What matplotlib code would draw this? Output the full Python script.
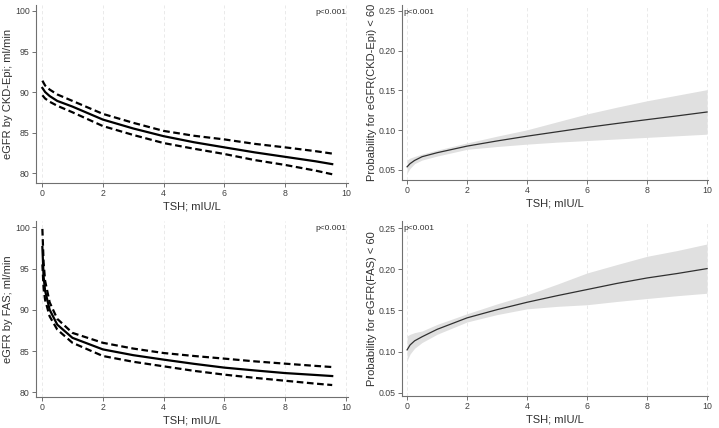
import numpy as np
import matplotlib.pyplot as plt

plt.rcParams['font.family'] = ['Liberation Sans', 'DejaVu Sans']

# eGFR by CKD-Epi (top left)
tsh_ckd = [0.01, 0.1, 0.25, 0.5, 1, 2, 3, 4, 5, 6, 7, 8, 9, 9.55]
ckd_fit = [90.5, 90.0, 89.5, 88.9, 88.2, 86.6, 85.5, 84.55, 83.8, 83.17, 82.55, 82.0, 81.45, 81.1]
ckd_hi = [91.4, 90.8, 90.3, 89.7, 88.9, 87.3, 86.2, 85.2, 84.6, 84.15, 83.6, 83.17, 82.7, 82.4]
ckd_lo = [89.6, 89.2, 88.8, 88.3, 87.5, 85.8, 84.7, 83.7, 83.0, 82.35, 81.6, 81.0, 80.3, 79.85]

# eGFR by FAS (bottom left)
tsh_fas = [0.01, 0.05, 0.1, 0.25, 0.5, 1, 2, 3, 4, 5, 6, 7, 8, 9, 9.55]
fas_fit = [97.6, 94.0, 92.3, 90.0, 88.2, 86.6, 85.2, 84.5, 83.96, 83.45, 82.99, 82.65, 82.33, 82.1, 81.97]
fas_hi = [99.8, 95.7, 93.5, 90.9, 88.9, 87.2, 86.0, 85.3, 84.76, 84.4, 84.08, 83.75, 83.47, 83.2, 83.06]
fas_lo = [95.5, 92.6, 91.2, 89.2, 87.6, 86.0, 84.4, 83.7, 83.15, 82.6, 82.14, 81.75, 81.4, 81.05, 80.88]

# probability eGFR(CKD-Epi) < 60 (top right)
tsh_p = [0, 0.1, 0.25, 0.5, 1, 2, 3, 4, 5, 6, 7, 8, 9, 10]
pckd_fit = [0.054, 0.058, 0.062, 0.0667, 0.0717, 0.080, 0.0865, 0.0925, 0.098, 0.1035, 0.1085, 0.1133, 0.118, 0.1229]
pckd_hi = [0.0625, 0.065, 0.067, 0.070, 0.075, 0.084, 0.0925, 0.1005, 0.1105, 0.1205, 0.129, 0.137, 0.144, 0.151]
pckd_lo = [0.046, 0.052, 0.058, 0.0625, 0.0675, 0.076, 0.0795, 0.0825, 0.085, 0.087, 0.089, 0.091, 0.093, 0.095]

# probability eGFR(FAS) < 60 (bottom right)
pfas_fit = [0.102, 0.108, 0.113, 0.118, 0.127, 0.141, 0.151, 0.160, 0.168, 0.1755, 0.183, 0.1896, 0.195, 0.201]
pfas_hi = [0.119, 0.121, 0.123, 0.125, 0.133, 0.146, 0.158, 0.169, 0.182, 0.1957, 0.206, 0.216, 0.223, 0.231]
pfas_lo = [0.089, 0.097, 0.104, 0.111, 0.121, 0.136, 0.145, 0.152, 0.155, 0.157, 0.161, 0.1646, 0.168, 0.171]

W, H = 719, 428
fig = plt.figure(figsize=(W / 100, H / 100), dpi=100)


def make_ax(l, r, b, t):
    return fig.add_axes([l / W, 1 - b / H, (r - l) / W, (b - t) / H])


def style(ax, yticks, fmt, ylabel):
    for s in ['top', 'right']:
        ax.spines[s].set_visible(False)
    for s in ['left', 'bottom']:
        ax.spines[s].set_color('#707070')
        ax.spines[s].set_linewidth(0.8)
    ax.set_xticks([0, 2, 4, 6, 8, 10])
    ax.set_yticks(yticks)
    ax.set_yticklabels([fmt.format(v) for v in yticks])
    ax.tick_params(length=3, width=0.7, color='#707070', labelsize=6.3, labelcolor='#404040', pad=1.5)
    ax.xaxis.grid(True, color='#e6e6e6', lw=0.6, ls=(0, (4, 3)))
    ax.set_axisbelow(True)
    ax.set_xlabel('TSH; mIU/L', fontsize=8, color='#303030', labelpad=2)
    ax.set_ylabel(ylabel, fontsize=8, color='#303030', labelpad=1.5)


# top left
ax1 = make_ax(36, 348, 183, 5)
ax1.plot(tsh_ckd, ckd_fit, color='black', lw=1.6)
ax1.plot(tsh_ckd, ckd_hi, color='black', lw=1.6, dashes=(3, 1.6))
ax1.plot(tsh_ckd, ckd_lo, color='black', lw=1.6, dashes=(3, 1.6))
ax1.set_xlim(-0.2, 10.07)
ax1.set_ylim(78.77, 100.74)
style(ax1, [80, 85, 90, 95, 100], '{:g}', 'eGFR by CKD-Epi; ml/min')
ax1.text(0.995, 0.975, 'p<0.001', transform=ax1.transAxes, ha='right', va='top', fontsize=6, color='#303030')

# bottom left
ax3 = make_ax(36, 348, 397, 221)
ax3.plot(tsh_fas, fas_fit, color='black', lw=1.6)
ax3.plot(tsh_fas, fas_hi, color='black', lw=1.6, dashes=(3, 1.6))
ax3.plot(tsh_fas, fas_lo, color='black', lw=1.6, dashes=(3, 1.6))
ax3.set_xlim(-0.2, 10.07)
ax3.set_ylim(79.43, 100.76)
style(ax3, [80, 85, 90, 95, 100], '{:g}', 'eGFR by FAS; ml/min')
ax3.text(0.995, 0.975, 'p<0.001', transform=ax3.transAxes, ha='right', va='top', fontsize=6, color='#303030')

# top right
ax2 = make_ax(402, 708, 180, 5)
ax2.fill_between(tsh_p, pckd_lo, pckd_hi, color='#e0e0e0', lw=0)
ax2.plot(tsh_p, pckd_fit, color='#303030', lw=0.9)
ax2.set_xlim(-0.17, 10.03)
ax2.set_ylim(0.0374, 0.2574)
style(ax2, [0.05, 0.10, 0.15, 0.20, 0.25], '{:.2f}', 'Probability for eGFR(CKD-Epi) < 60')
ax2.text(0.005, 0.975, 'p<0.001', transform=ax2.transAxes, ha='left', va='top', fontsize=6, color='#303030')

# bottom right
ax4 = make_ax(402, 708, 396, 221)
ax4.fill_between(tsh_p, pfas_lo, pfas_hi, color='#e0e0e0', lw=0)
ax4.plot(tsh_p, pfas_fit, color='#303030', lw=0.9)
ax4.set_xlim(-0.17, 10.03)
ax4.set_ylim(0.0458, 0.259)
style(ax4, [0.05, 0.10, 0.15, 0.20, 0.25], '{:.2f}', 'Probability for eGFR(FAS) < 60')
ax4.text(0.005, 0.975, 'p<0.001', transform=ax4.transAxes, ha='left', va='top', fontsize=6, color='#303030')

fig.savefig('out.png', dpi=100)
